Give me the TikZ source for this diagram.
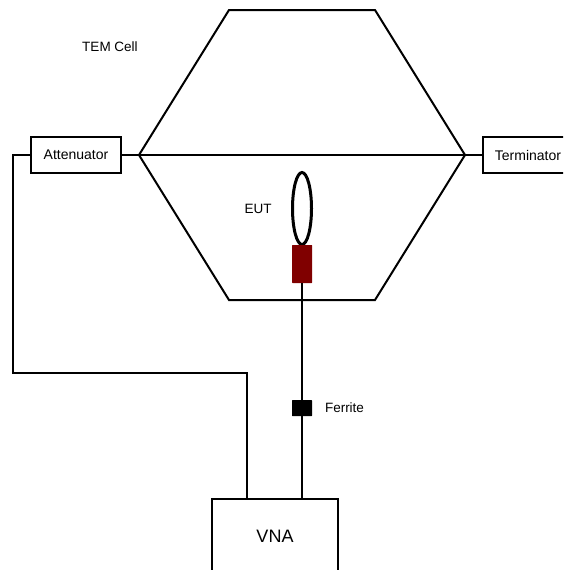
\documentclass[tikz,border=0pt]{standalone}
\usepackage{fontspec}
\setmainfont{Liberation Sans}
\usetikzlibrary{shapes.geometric}
\definecolor{darkred}{RGB}{128,0,0}
\tikzset{
  wire/.style={line width=2pt,line join=miter},
  labelbox/.style={draw,line width=2pt,minimum width=#1,minimum height=36pt,inner sep=0pt,font=\fontsize{14}{16}\selectfont},
  plain/.style={inner sep=0pt,font=\fontsize{13.5}{15}\selectfont},
  block/.style={inner sep=0pt,minimum width=20pt,rounded corners=0.5pt}
}
\begin{document}
\begin{tikzpicture}[x=1pt,y=-1pt]
\useasboundingbox (0,0) rectangle (563,570);
\clip (0,0) rectangle (563,570);
\coordinate (hl) at (139,155);
\coordinate (hr) at (465,155);
\coordinate (bendA) at (13,155);
\coordinate (bendB) at (13,373);
\coordinate (bendC) at (247,373);
\draw[wire] (hl) -- (229,10) -- (375,10) -- (hr) -- (375,300) -- (229,300) -- cycle;
\draw[wire] (hl) -- (hr);
\node[labelbox=90pt] (att) at (76,155) {Attenuator};
\node[labelbox=82pt] (term) at (524,155) {\hspace*{8pt}Terminator};
\node[draw,ellipse,line width=3pt,minimum width=19pt,minimum height=72pt,inner sep=0pt] (loop) at (302,208.5) {};
\node[block,fill=darkred,minimum height=38pt] (eutblock) at (302,264) {};
\node[block,fill=black,minimum height=16pt] (ferrite) at (302,408) {};
\node[draw,line width=2pt,minimum width=126pt,minimum height=80pt,inner sep=0pt,anchor=north west] (vna) at (210.5,498) {};
\node[font=\fontsize{18}{20}\selectfont] (vnalabel) at (275,536) {VNA};
\draw[wire] (hl) -- (att.east);
\draw[wire] (hr) -- (term.west);
\draw[wire] (att.west) -- (bendA) -- (bendB) -- (bendC) -- (bendC |- vna.north);
\draw[wire] (eutblock.south) -- (ferrite.north);
\draw[wire] (ferrite.south) -- (ferrite.south |- vna.north);
\node[plain] (tem) at (110,47) {TEM Cell};
\node[plain] (eut) at (258,209) {EUT};
\node[plain] (ferl) at (344.5,408) {Ferrite};
\end{tikzpicture}
\end{document}
